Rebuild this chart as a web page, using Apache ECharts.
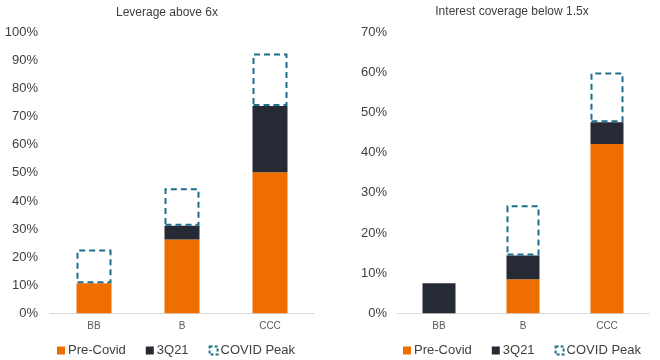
<!DOCTYPE html>
<html>
<head>
<meta charset="utf-8">
<script src="https://cdn.jsdelivr.net/npm/echarts@6/dist/echarts.min.js"></script>
<style>
html,body{margin:0;padding:0;background:#fff;}
#chart{width:660px;height:360px;}
</style>
</head>
<body>
<div id="chart"></div>
<script>
// Categories and tick settings
var categories = ['BB', 'B', 'CCC'];
var titles = ['Leverage above 6x', 'Interest coverage below 1.5x'];
var seriesNames = ['Pre-Covid', '3Q21', 'COVID Peak'];

// Leverage above 6x (stacked segments, % points)
var levPreCovid = [10.7, 26.3, 50.2];
var lev3Q21 = [0, 4.9, 23.6];
var levCovidPeak = [12.0, 13.3, 18.7];

// Interest coverage below 1.5x (stacked segments, % points)
var icPreCovid = [0, 8.5, 42.2];
var ic3Q21 = [7.5, 5.9, 5.4];
var icCovidPeak = [null, 12.5, 12.4];

var FONT = '"Liberation Sans", Arial, sans-serif';
var ORANGE = '#EE6E00';
var DARK = '#262A35';
var TEAL = '#1F6E8C';

function axisX(idx) {
  return {
    type: 'category', gridIndex: idx, data: categories,
    axisLine: { lineStyle: { color: '#D9D9D9', width: 1 } },
    axisTick: { show: false },
    axisLabel: { color: '#595959', fontSize: 10, fontFamily: FONT, margin: 8 }
  };
}
function axisY(idx, max, margin) {
  return {
    type: 'value', gridIndex: idx, min: 0, max: max, interval: 10,
    splitLine: { show: false },
    axisLine: { show: false }, axisTick: { show: false },
    axisLabel: { color: '#404040', fontSize: 13, fontFamily: FONT, margin: margin,
      formatter: function (v) { return v + '%'; } }
  };
}
function barSeries(name, data, idx, width, kind) {
  var s = {
    name: name, type: 'bar', xAxisIndex: idx, yAxisIndex: idx,
    stack: 'g' + idx, data: data, barWidth: width, silent: true
  };
  if (kind === 'peak') {
    s.itemStyle = { color: 'rgba(255,255,255,0)', borderColor: TEAL, borderWidth: 2, borderType: [6, 4] };
  } else {
    s.itemStyle = { color: kind === 'pre' ? ORANGE : DARK };
  }
  return s;
}
function legend(left) {
  return {
    left: left, top: 339, itemWidth: 8, itemHeight: 8, itemGap: 20,
    icon: 'rect',
    textStyle: { color: '#404040', fontSize: 13, fontFamily: FONT, padding: [0, 0, 0, -2] },
    data: [
      { name: seriesNames[0], itemStyle: { color: ORANGE } },
      { name: seriesNames[1], itemStyle: { color: DARK } },
      { name: seriesNames[2], itemStyle: { color: '#fff', borderColor: TEAL, borderWidth: 2, borderType: [3, 2] } }
    ]
  };
}

var chart = echarts.init(document.getElementById('chart'), null, { renderer: 'canvas' });
chart.setOption({
  animation: false,
  backgroundColor: '#fff',
  title: [
    { text: titles[0], left: 162, top: 2, textAlign: 'center',
      textStyle: { fontSize: 12, fontWeight: 'normal', color: '#404040', fontFamily: FONT } },
    { text: titles[1], left: 507, top: 1, textAlign: 'center',
      textStyle: { fontSize: 12, fontWeight: 'normal', color: '#404040', fontFamily: FONT } }
  ],
  legend: [legend(52), legend(398)],
  grid: [
    { left: 50, right: 346, top: 32.5, bottom: 46.7 },
    { left: 397, right: 11, top: 32.3, bottom: 46.7 }
  ],
  xAxis: [axisX(0), axisX(1)],
  yAxis: [axisY(0, 100, 12), axisY(1, 70, 10)],
  series: [
    barSeries(seriesNames[0], levPreCovid, 0, 35, 'pre'),
    barSeries(seriesNames[1], lev3Q21, 0, 35, 'q'),
    barSeries(seriesNames[2], levCovidPeak, 0, 35, 'peak'),
    barSeries(seriesNames[0], icPreCovid, 1, 33, 'pre'),
    barSeries(seriesNames[1], ic3Q21, 1, 33, 'q'),
    barSeries(seriesNames[2], icCovidPeak, 1, 33, 'peak')
  ]
});
</script>
</body>
</html>
